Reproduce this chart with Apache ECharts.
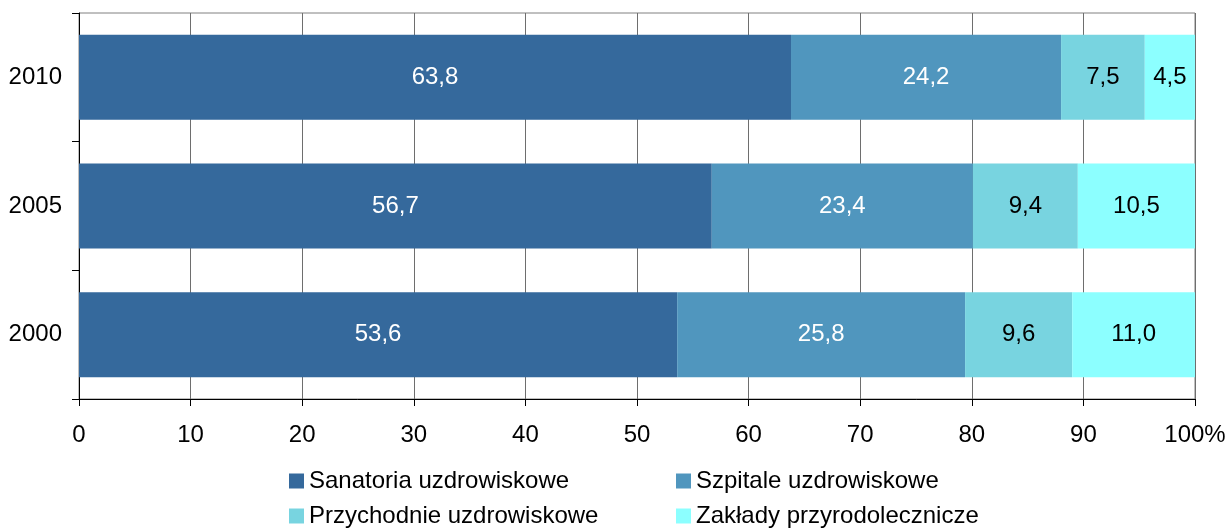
<!DOCTYPE html>
<html>
<head>
<meta charset="utf-8">
<script src="https://cdn.jsdelivr.net/npm/echarts@6/dist/echarts.min.js"></script>
<style>
  html, body { margin: 0; padding: 0; background: #fff; }
  #div_chart { width: 1231px; height: 529px; }
</style>
</head>
<body>
<div id="div_chart"></div>
<script>
// data
const years = ["2000", "2005", "2010"];
const sanatoria = [53.6, 56.7, 63.8];
const szpitale = [25.8, 23.4, 24.2];
const przychodnie = [9.6, 9.4, 7.5];
const zaklady = [11.0, 10.5, 4.5];
const series_names = ["Sanatoria uzdrowiskowe", "Szpitale uzdrowiskowe", "Przychodnie uzdrowiskowe", "Zakłady przyrodolecznicze"];

const font = "Liberation Sans, Arial, sans-serif";
const font_size = 24;
const colors = ["#35699c", "#5096be", "#78d4e0", "#8cffff"];
const label_colors = ["#ffffff", "#ffffff", "#000000", "#000000"];

function fmt_pl(v) {
  return v.toFixed(1).replace(".", ",");
}

function make_series(name, data, i) {
  return {
    type: "bar",
    name: name,
    stack: "all",
    data: data,
    barWidth: "66%",
    itemStyle: { color: colors[i] },
    label: {
      show: true,
      position: "inside",
      color: label_colors[i],
      fontFamily: font,
      fontSize: font_size,
      formatter: p => fmt_pl(p.value),
    },
    emphasis: { disabled: true },
  };
}

// one legend per entry, so the 2x2 layout keeps fixed columns
function make_legend(name, left, top) {
  return {
    left: left, top: top,
    padding: 0,
    itemWidth: 15, itemHeight: 15,
    icon: "rect",
    data: [name],
    textStyle: { color: "#000", fontFamily: font, fontSize: font_size },
  };
}

const chart = echarts.init(document.getElementById("div_chart"));
chart.setOption({
  animation: false,
  grid: {
    left: 79, right: 36, top: 13, bottom: 130,
    show: true, borderColor: "#808080", borderWidth: 1,
  },
  xAxis: {
    type: "value",
    min: 0, max: 100, interval: 10,
    axisLine: { show: true, lineStyle: { color: "#000" } },
    axisTick: { show: true, length: 7, lineStyle: { color: "#000" } },
    splitLine: { show: true, lineStyle: { color: "#6e6e6e" } },
    axisLabel: {
      margin: 24,
      color: "#000", fontFamily: font, fontSize: font_size,
      formatter: v => (v === 100 ? "100%" : String(v)),
    },
  },
  yAxis: {
    type: "category",
    data: years,
    axisLine: { show: true, lineStyle: { color: "#000" } },
    axisTick: { show: true, length: 7, lineStyle: { color: "#000" } },
    axisLabel: { margin: 17, color: "#000", fontFamily: font, fontSize: font_size },
  },
  legend: [
    make_legend(series_names[0], 289, 469),
    make_legend(series_names[2], 289, 504),
    make_legend(series_names[1], 676, 469),
    make_legend(series_names[3], 676, 504),
  ],
  series: [
    make_series(series_names[0], sanatoria, 0),
    make_series(series_names[1], szpitale, 1),
    make_series(series_names[2], przychodnie, 2),
    make_series(series_names[3], zaklady, 3),
  ],
});
</script>
</body>
</html>
